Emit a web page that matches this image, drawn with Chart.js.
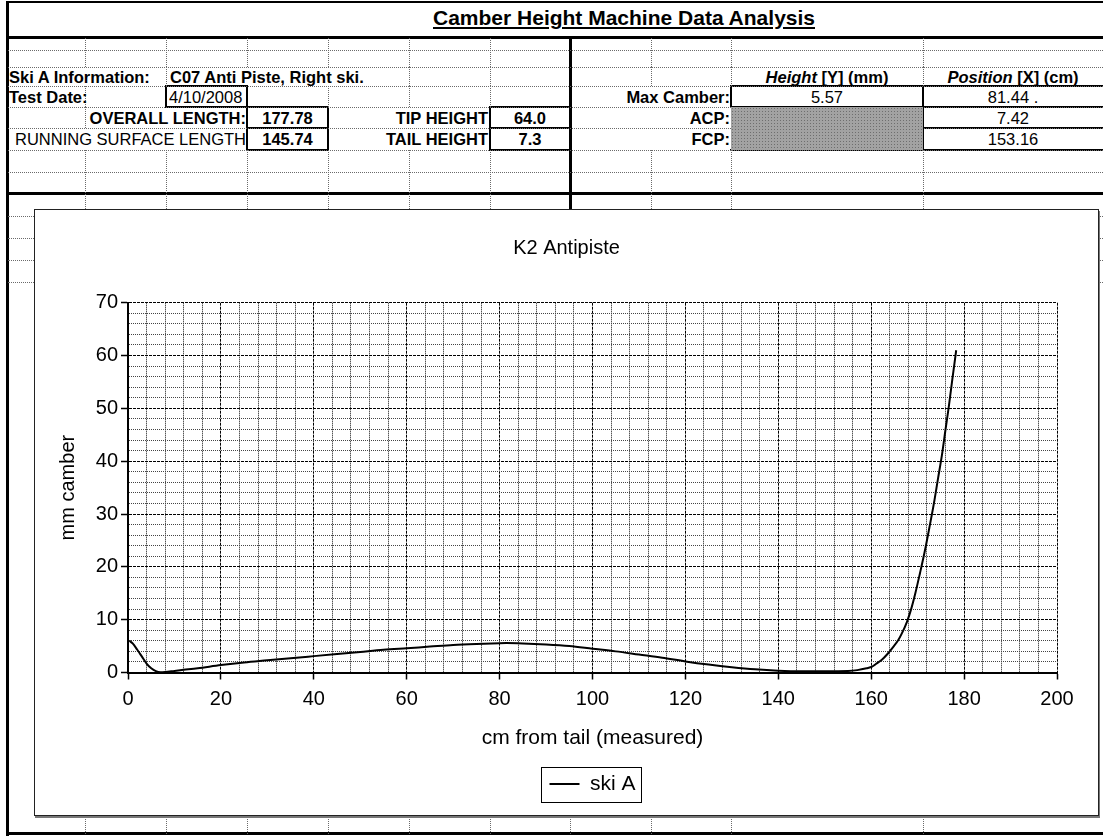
<!DOCTYPE html>
<html>
<head>
<meta charset="utf-8">
<script src="https://cdn.jsdelivr.net/npm/chart.js@4.4.1/dist/chart.umd.min.js"></script>
<style>
html,body{margin:0;padding:0;background:#fff;}
#sheet{position:relative;width:1103px;height:836px;overflow:hidden;background:#fff;font-family:"Liberation Sans",Arial,sans-serif;color:#000;}
.l{position:absolute;box-sizing:border-box;}
.dh{height:0;border-top:1px dotted #6a6a6a;}
.dv{width:0;border-left:1px dotted #6a6a6a;}
.sk{background:#000;}
.bx{border:2px solid #000;}
.t{position:absolute;white-space:nowrap;font-size:16.5px;line-height:20px;height:20px;}
.b{font-weight:bold;}
.c{text-align:center;}
#chartBox{position:absolute;left:34px;top:209px;width:1063px;height:605px;border:1px solid #222;background:#fff;box-shadow:1px 2px 0 #777;}
#gray{background-color:#a2a2a2;background-image:radial-gradient(#6e6e6e 0.7px,transparent 0.9px);background-size:3px 3px;}
</style>
</head>
<body>
<div id="sheet">
  <div class="t b" style="left:0;width:1248px;text-align:center;top:5px;font-size:21px;line-height:26px;height:26px;text-decoration:underline;">Camber Height Machine Data Analysis</div>

  <div id="gray" class="l" style="left:731px;top:107px;width:192px;height:43px;"></div>

  <div class="t b" style="left:9px;top:67px;">Ski A Information:</div>
  <div class="t b" style="left:170px;top:67px;">C07 Anti Piste, Right ski.</div>
  <div class="t b" style="left:9px;top:87px;">Test Date:</div>
  <div class="t" style="left:169px;top:87px;">4/10/2008</div>
  <div class="t b" style="right:857px;top:108px;">OVERALL LENGTH:</div>
  <div class="t b c" style="left:247px;width:81px;top:108px;">177.78</div>
  <div class="t b" style="right:615px;top:108px;">TIP HEIGHT</div>
  <div class="t b c" style="left:490px;width:80px;top:108px;">64.0</div>
  <div class="t" style="right:857px;top:129px;">RUNNING SURFACE LENGTH</div>
  <div class="t b c" style="left:247px;width:81px;top:129px;">145.74</div>
  <div class="t b" style="right:615px;top:129px;">TAIL HEIGHT</div>
  <div class="t b c" style="left:490px;width:80px;top:129px;">7.3</div>

  <div class="t b c" style="left:731px;width:192px;top:67px;"><i>Height</i> [Y] (mm)</div>
  <div class="t b c" style="left:923px;width:180px;top:67px;"><i>Position</i> [X] (cm)</div>
  <div class="t b" style="right:373px;top:87px;">Max Camber:</div>
  <div class="t c" style="left:731px;width:192px;top:87px;">5.57</div>
  <div class="t c" style="left:923px;width:180px;top:87px;">81.44 .</div>
  <div class="t b" style="right:373px;top:108px;">ACP:</div>
  <div class="t c" style="left:923px;width:180px;top:108px;">7.42</div>
  <div class="t b" style="right:373px;top:129px;">FCP:</div>
  <div class="t c" style="left:923px;width:180px;top:129px;">153.16</div>

  <div id="chartBox"><canvas id="c" width="1063" height="605"></canvas></div>
</div>

<script>
// ---------------- chart data ----------------
const positionsCm = [0.3, 1, 2, 3, 4, 5, 6, 7, 8, 10, 12, 15, 20, 25, 30, 35, 40, 45, 50, 55, 60, 65, 70, 75, 80, 81.44,
  85, 90, 95, 100, 105, 110, 115, 120, 125, 130, 135, 140, 145, 150, 155, 157, 159, 160.2, 161, 162.3, 163.5, 164.8,
  165.8, 166.6, 167.7, 168.6, 169.5, 170.5, 171.5, 172.5, 173.5, 174.4, 175.2, 176.0, 176.7, 177.5, 178.3];
const camberMm = [6.0, 5.5, 4.3, 3.0, 1.7, 0.8, 0.25, 0.05, 0.1, 0.3, 0.5, 0.8, 1.4, 1.9, 2.3, 2.7, 3.1, 3.5, 3.9, 4.3, 4.6, 4.9, 5.2, 5.4, 5.55, 5.57,
  5.5, 5.3, 5.0, 4.5, 4.0, 3.4, 2.8, 2.1, 1.5, 1.0, 0.6, 0.35, 0.25, 0.25, 0.3, 0.45, 0.8, 1.1, 1.6, 2.4, 3.5, 4.9,
  6.1, 7.4, 9.6, 12.0, 15.0, 18.8, 22.8, 27.3, 32.0, 36.8, 41.0, 46.0, 50.3, 55.7, 61.0];
const xMajorTicks = [0, 20, 40, 60, 80, 100, 120, 140, 160, 180, 200];
const yMajorTicks = [0, 10, 20, 30, 40, 50, 60, 70];
const seriesName = 'ski A';
const chartTitle = 'K2 Antipiste';
const xAxisTitle = 'cm from tail (measured)';
const yAxisTitle = 'mm camber';

// ---------------- spreadsheet gridlines ----------------
const sheet = document.getElementById('sheet');
function el(cls, x, y, w, h) {
  const d = document.createElement('div');
  d.className = 'l ' + cls;
  d.style.left = x + 'px'; d.style.top = y + 'px';
  if (w !== null) d.style.width = w + 'px';
  if (h !== null) d.style.height = h + 'px';
  sheet.insertBefore(d, sheet.firstChild.nextSibling);
  return d;
}
[50, 67, 86, 107, 128, 150, 172].forEach(y => el('dh', 8, y, 1095, null));
[216, 238, 260, 282].forEach(y => { el('dh', 8, y, 26, null); el('dh', 1099, y, 4, null); });
const bands = [
  [38, 67, [85, 166, 247, 328, 409, 490, 651, 731, 923]],
  [67, 86, [166, 409, 490, 651, 731, 923]],
  [86, 107, [85, 328, 409, 490]],
  [107, 128, [85]],
  [128, 150, []],
  [150, 209, [85, 166, 247, 328, 409, 490, 651, 731, 923]],
  [815, 834, [85, 166, 247, 328, 409, 490, 570, 651, 731, 923]]
];
bands.forEach(([a, b, cols]) => cols.forEach(x => el('dv', x, a, null, b - a)));
// solid boxes
el('bx', 165, 85, 83, 23);
el('bx', 246, 106, 83, 45); el('sk', 246, 127, 83, 2);
el('bx', 489, 106, 82, 45); el('sk', 489, 127, 82, 2);
el('bx', 730, 85, 194, 23);
el('bx', 922, 85, 190, 66); el('sk', 922, 106, 190, 2); el('sk', 922, 127, 190, 2);
el('sk', 730, 149, 194, 2);
// thick lines
el('sk', 6, 1, 1097, 2);
el('sk', 6, 36, 1097, 3);
el('sk', 6, 192, 1097, 3);
el('sk', 569, 37, 3, 173);
el('sk', 6, 832, 1097, 3);
el('sk', 6, 1, 3, 835);

// ---------------- chart ----------------
const FONT = "'Liberation Sans', Arial, sans-serif";
const isMajorX = v => xMajorTicks.includes(v);
const isMajorY = v => yMajorTicks.includes(v);

const legendBoxPlugin = {
  id: 'legendBox',
  afterDraw(chart) {
    const lg = chart.legend;
    if (!lg || !lg.legendHitBoxes || !lg.legendHitBoxes.length) return;
    const hb = lg.legendHitBoxes[0];
    const ctx = chart.ctx;
    ctx.save();
    ctx.strokeStyle = '#000';
    ctx.lineWidth = 1;
    ctx.strokeRect(Math.round(hb.left - 8) + 0.5, Math.round(hb.top - 7) + 0.5,
                   Math.round(hb.width + 14), Math.round(hb.height + 14));
    ctx.restore();
  }
};

new Chart(document.getElementById('c'), {
  type: 'line',
  data: {
    datasets: [{
      label: seriesName,
      data: positionsCm.map((x, i) => ({ x: x, y: camberMm[i] })),
      xAxisID: 'x', yAxisID: 'y',
      borderColor: '#000', backgroundColor: '#000', borderWidth: 2,
      pointRadius: 0, pointHoverRadius: 0, pointStyle: 'line',
      fill: false, cubicInterpolationMode: 'monotone'
    }]
  },
  options: {
    responsive: false, animation: false, devicePixelRatio: 1,
    layout: { padding: { left: 0, right: 0, top: 0, bottom: 10.5 } },
    scales: {
      x: {
        type: 'linear', position: 'bottom', min: 0, max: 200,
        ticks: { stepSize: 4, autoSkip: false, maxRotation: 0, color: '#000', padding: 8,
                 font: { family: FONT, size: 20 },
                 callback: v => isMajorX(v) ? String(v) : '' },
        grid: { lineWidth: 1, drawTicks: true, tickLength: 7, tickWidth: 1.5,
                color: c => (c.tick && isMajorX(c.tick.value)) ? '#000' : '#111',
                tickColor: c => (c.tick && isMajorX(c.tick.value)) ? '#000' : 'rgba(0,0,0,0)' },
        border: { display: true, color: '#000', width: 2,
                  dash: c => (c.tick && isMajorX(c.tick.value)) ? [3, 1] : [1, 1] },
        title: { display: true, text: xAxisTitle, color: '#000', font: { family: FONT, size: 21 },
                 padding: { top: 0, bottom: 1.9 } },
        afterFit: s => { s.height = 80; }
      },
      y: {
        type: 'linear', position: 'left', min: 0, max: 70,
        ticks: { stepSize: 2, autoSkip: false, color: '#000', padding: 3,
                 font: { family: FONT, size: 20 },
                 callback: v => isMajorY(v) ? String(v) : '' },
        grid: { lineWidth: 1, drawTicks: true, tickLength: 7, tickWidth: 1.5,
                color: c => (c.tick && isMajorY(c.tick.value)) ? '#000' : '#444',
                tickColor: c => (c.tick && isMajorY(c.tick.value)) ? '#000' : 'rgba(0,0,0,0)' },
        border: { display: true, color: '#000', width: 2,
                  dash: c => (c.tick && isMajorY(c.tick.value)) ? [3, 1] : [1, 1] },
        title: { display: true, text: yAxisTitle, color: '#000', font: { family: FONT, size: 20 },
                 padding: { top: 21, bottom: 0 } },
        afterFit: s => { s.width = 93; }
      },
      yR: {
        type: 'linear', position: 'right', display: true,
        grid: { display: false }, border: { display: false }, ticks: { display: false },
        afterFit: s => { s.width = 41; }
      }
    },
    plugins: {
      title: { display: true, text: chartTitle, color: '#000',
               font: { family: FONT, size: 20, weight: 'normal' },
               padding: { top: 26, bottom: 42.7 } },
      legend: { display: true, position: 'bottom', fullSize: false,
                labels: { usePointStyle: true, pointStyle: 'line', pointStyleWidth: 30,
                          color: '#000', font: { family: FONT, size: 21 }, padding: 21 } },
      tooltip: { enabled: false }
    }
  },
  plugins: [legendBoxPlugin]
});
</script>
</body>
</html>
